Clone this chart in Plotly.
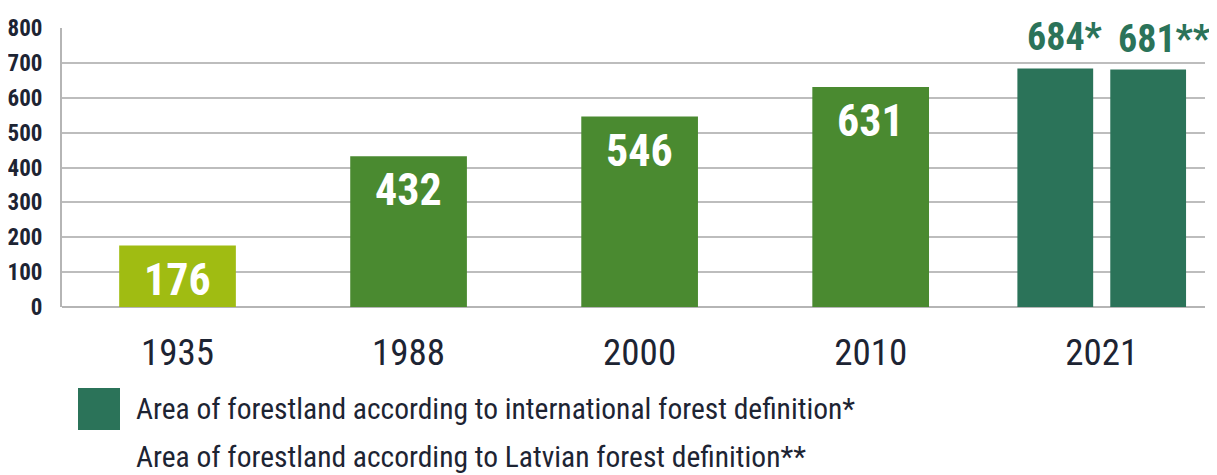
import plotly.graph_objects as go

years = ["1935", "1988", "2000", "2010", "2021"]
main_years = ["1935", "1988", "2000", "2010"]
main_values = [176, 432, 546, 631]
main_colors = ["#a0bc12", "#4a8a30", "#4a8a30", "#4a8a30"]
intl_value = [684]
latv_value = [681]
intl_label = "684*"
latv_label = "681**"
legend_texts = [
    "Area of forestland according to international forest definition*",
    "Area of forestland according to Latvian forest definition**",
]
y_ticks = [0, 100, 200, 300, 400, 500, 600, 700, 800]

FONT = "Roboto Condensed, Open Sans Condensed, sans-serif"
DARK = "#1d2433"
TEAL = "#2b7359"

BAR_W2 = 0.328
OFF1, OFF2 = -0.365, 0.037

fig = go.Figure()
fig.add_trace(go.Bar(
    x=main_years, y=main_values, marker=dict(color=main_colors, line=dict(width=0)),
    width=0.505, showlegend=False, hoverinfo="x+y",
))
fig.add_trace(go.Bar(
    x=["2021"], y=intl_value, marker=dict(color=TEAL, line=dict(width=0)),
    width=BAR_W2, offset=OFF1, showlegend=False,
))
fig.add_trace(go.Bar(
    x=["2021"], y=latv_value, marker=dict(color=TEAL, line=dict(width=0)),
    width=BAR_W2, offset=OFF2, showlegend=False,
))

# value labels inside bars (x given as category index)
for i, v in enumerate(main_values):
    fig.add_annotation(x=i, y=v, text=str(v), showarrow=False, yanchor="middle",
                       yshift=-34, font=dict(family=FONT, size=44, color="white", weight="bold"))

idx2021 = years.index("2021")
for off, v, lab, xs in [(OFF1, intl_value[0], intl_label, 8), (OFF2, latv_value[0], latv_label, 6)]:
    fig.add_annotation(x=idx2021 + off, y=v, text=lab, showarrow=False, xanchor="left",
                       yanchor="middle", yshift=31, xshift=xs,
                       font=dict(family=FONT, size=38, color=TEAL, weight="bold"))

# legend (custom)
fig.add_shape(type="rect", xref="paper", yref="paper",
              x0=(78 - 62) / 1143, x1=(120 - 62) / 1143,
              y0=-(430 - 307) / 279, y1=-(388 - 307) / 279,
              fillcolor=TEAL, line=dict(width=0))
for i, t in enumerate(legend_texts):
    fig.add_annotation(xref="paper", yref="paper", x=(134 - 62) / 1143,
                       y=-((409 + 48 * i) - 307) / 279, xanchor="left", yanchor="middle",
                       text=t, showarrow=False,
                       font=dict(family=FONT, size=29.5, color=DARK))

# page body has an 8px margin, so the figure is 8px smaller and shifted
fig.update_layout(
    width=1209, height=467,
    margin=dict(l=54, r=12, t=20, b=168, autoexpand=False),
    plot_bgcolor="white", paper_bgcolor="white",
    barmode="overlay",
    xaxis=dict(type="category", categoryorder="array", categoryarray=years,
               range=[-0.5, 4.447], showgrid=False, zeroline=False, showline=False,
               ticks="", ticklabelstandoff=20, automargin=False,
               tickfont=dict(family=FONT, size=37, color=DARK)),
    yaxis=dict(range=[0, 800], tickvals=y_ticks, showgrid=True, gridcolor="#bdbdbd",
               gridwidth=2, zeroline=True, zerolinecolor="#b5b5b5", zerolinewidth=2,
               showline=True, linecolor="#b5b5b5", linewidth=2,
               ticks="", ticklabelstandoff=13, automargin=False,
               tickfont=dict(family=FONT, size=23, color=DARK, weight="bold")),
)

fig.write_html("out.html")
